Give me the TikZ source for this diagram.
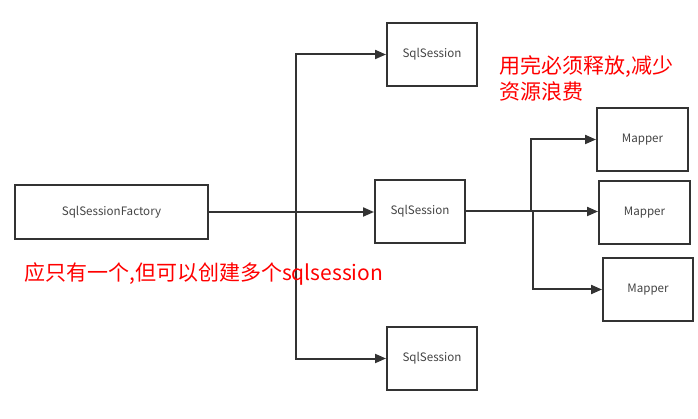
\documentclass[tikz,border=0pt]{standalone}
\usepackage{fontspec}
\setmainfont{Noto Sans CJK SC}
\newfontfamily\cjk{Noto Sans CJK SC}
\usetikzlibrary{arrows.meta}
\definecolor{linec}{HTML}{333333}
\definecolor{txtc}{HTML}{444444}
\tikzset{
  box/.style={draw=linec, line width=2pt, inner sep=0pt, font=\cjk\fontsize{11.6}{13}\selectfont, text=txtc},
  conn/.style={draw=linec, line width=2pt, -{Triangle[length=11pt,width=9pt]}},
  note/.style={text=red, font=\cjk\fontsize{21}{26}\selectfont, inner sep=0pt, anchor=west, align=left}
}
\begin{document}
\begin{tikzpicture}[x=1pt,y=-1pt]
\useasboundingbox (0,0) rectangle (698,419);
\fill[white] (0,0) rectangle (698,419);
\node[box, minimum width=193pt, minimum height=54pt] (fac) at (111.5,212) {SqlSessionFactory};
\node[box, minimum width=90pt, minimum height=63pt] (s1) at (432,54.5) {SqlSession};
\node[box, minimum width=90pt, minimum height=63pt] (s2) at (420,211.5) {SqlSession};
\node[box, minimum width=90pt, minimum height=63pt] (s3) at (432,358.5) {SqlSession};
\node[box, minimum width=91pt, minimum height=63pt] (m1) at (642.5,139.5) {Mapper};
\node[box, minimum width=91pt, minimum height=63pt] (m2) at (644.5,212.5) {Mapper};
\node[box, minimum width=90pt, minimum height=63pt] (m3) at (648,289.5) {Mapper};
\coordinate (j1) at (296,212);
\coordinate (j2) at (531,212);
\coordinate (j3) at (533,212);
\draw[conn] (fac.east) -- (s2.west |- fac.east);
\draw[conn] (j1) |- (s1.west);
\draw[conn] (j1) |- (s3.west);
\draw[conn] (s2.east) -- (m2.west |- s2.east);
\draw[conn] (j2) |- (m1.west);
\draw[conn] (j3) |- (m3.west);
\node[note] (n1) at (24,274) {应只有一个,但可以创建多个sqlsession};
\node[note] (n2) at (499,78.5) {用完必须释放,减少\\资源浪费};
\end{tikzpicture}
\end{document}
